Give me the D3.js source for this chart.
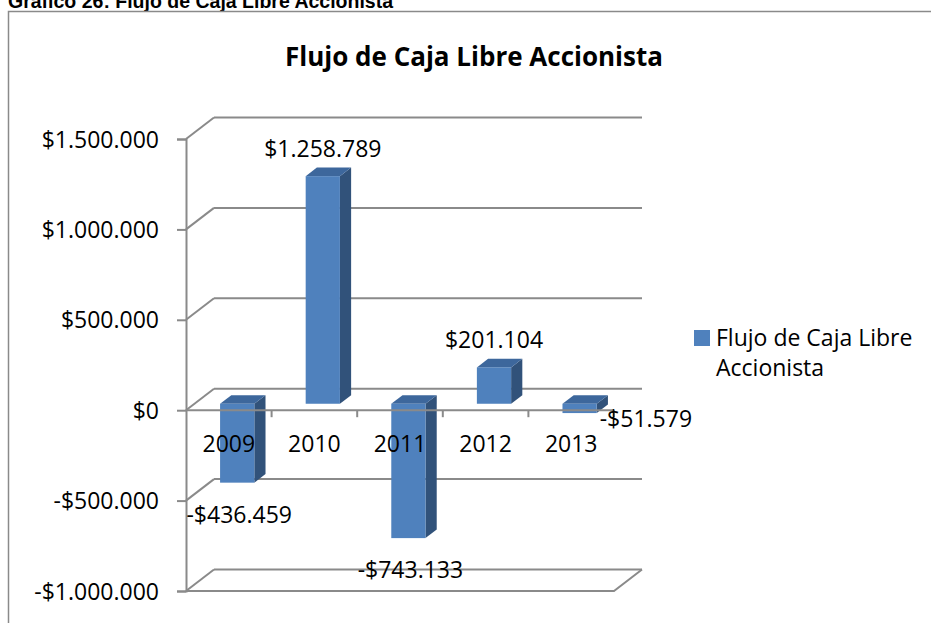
<!DOCTYPE html>
<html>
<head>
<meta charset="utf-8">
<script src="https://cdn.jsdelivr.net/npm/d3@7"></script>
<style>
  body { margin: 0; background: #fff; }
  text { font-family: "Open Sans", sans-serif; fill: #000; }
</style>
</head>
<body>
<div id="chart"></div>
<script>
(function() {
    // datos del gráfico
    const years = ['2009', '2010', '2011', '2012', '2013'];
    const flujo = [-436459, 1258789, -743133, 201104, -51579];
    const yTicks = [-1000000, -500000, 0, 500000, 1000000, 1500000];

    const width = 931, height = 623;
    const frontLeft = 186, frontRight = 614;
    const depthX = 28, depthY = -21.5;   // profundidad del gráfico 3D
    const barF1 = 0.3, barF2 = 0.7;      // posición de la barra en profundidad

    const svg = d3.select('#chart').append('svg')
        .attr('width', width)
        .attr('height', height);

    // formato $1.258.789
    const fmtNum = d3.formatLocale({ decimal: ',', thousands: '.', grouping: [3], currency: ['$', ''] }).format('$,.0f');
    const fmt = v => v < 0 ? '-' + fmtNum(-v) : fmtNum(v);

    const x = d3.scaleBand().domain(years).range([frontLeft, frontRight]).paddingInner(0).paddingOuter(0);
    const y = d3.scaleLinear().domain([-1000000, 1500000]).range([591, 139]);

    const grid = '#8a8a8a';

    // encabezado (cortado arriba, como en el documento)
    svg.append('text')
        .attr('x', 8).attr('y', 7.5)
        .style('font-family', '"Liberation Sans", Arial, sans-serif')
        .style('font-weight', 'bold')
        .style('font-size', '19.5px')
        .text('Gráfico 26: Flujo de Caja Libre Accionista');

    // borde del área del gráfico
    svg.append('path')
        .attr('d', `M8.5,${height + 5} L8.5,11.5 L${width + 5},11.5`)
        .attr('fill', 'none')
        .attr('stroke', grid)
        .attr('stroke-width', 1.5);

    // título
    svg.append('text')
        .attr('x', 474).attr('y', 66)
        .attr('text-anchor', 'middle')
        .style('font-weight', 'bold')
        .style('font-size', '26px')
        .text('Flujo de Caja Libre Accionista');

    const g = svg.append('g');

    // líneas de la pared del fondo y pared lateral
    yTicks.forEach(t => {
        const yy = y(t);
        g.append('line')
            .attr('x1', frontLeft).attr('y1', yy)
            .attr('x2', frontLeft + depthX).attr('y2', yy + depthY)
            .attr('stroke', grid).attr('stroke-width', 2);
        g.append('line')
            .attr('x1', frontLeft + depthX).attr('y1', yy + depthY)
            .attr('x2', frontRight + depthX).attr('y2', yy + depthY)
            .attr('stroke', grid).attr('stroke-width', 2);
    });

    // piso inferior
    const yb = y(-1000000);
    g.append('path')
        .attr('d', `M${frontLeft},${yb} L${frontRight},${yb} L${frontRight + depthX},${yb + depthY}`)
        .attr('fill', 'none').attr('stroke', grid).attr('stroke-width', 2);

    // barras 3D
    const y0 = y(0);
    const bw = x.bandwidth() * 0.4;
    const bars = g.append('g')
        .selectAll('g')
        .data(years.map((d, i) => ({ year: d, value: flujo[i] })))
        .enter().append('g');

    bars.each(function(d) {
        const gb = d3.select(this);
        const xl = x(d.year) + x.bandwidth() / 2 - bw / 2 + barF1 * depthX;
        const xr = xl + bw;
        const yTop = Math.min(y(d.value), y0) + barF1 * depthY;
        const yBot = Math.max(y(d.value), y0) + barF1 * depthY;
        const ddx = (barF2 - barF1) * depthX, ddy = (barF2 - barF1) * depthY;
        gb.append('path')
            .attr('d', `M${xr},${yTop} L${xr + ddx},${yTop + ddy} L${xr + ddx},${yBot + ddy} L${xr},${yBot} Z`)
            .attr('fill', '#31527a');
        gb.append('path')
            .attr('d', `M${xl},${yTop} L${xl + ddx},${yTop + ddy} L${xr + ddx},${yTop + ddy} L${xr},${yTop} Z`)
            .attr('fill', '#3d679c');
        gb.append('rect')
            .attr('x', xl).attr('y', yTop)
            .attr('width', bw).attr('height', yBot - yTop)
            .attr('fill', '#4f81bd');
        d.xl = xl; d.xr = xr; d.yTop = yTop; d.yBot = yBot;
    });

    // línea del cero y marcas del eje de categorías (delante de las barras)
    g.append('line')
        .attr('x1', frontLeft).attr('y1', y0)
        .attr('x2', frontRight).attr('y2', y0)
        .attr('stroke', grid).attr('stroke-width', 2);
    years.forEach((yr, i) => {
        if (i === 0) return;
        g.append('line')
            .attr('x1', x(yr)).attr('y1', y0)
            .attr('x2', x(yr)).attr('y2', y0 + 7)
            .attr('stroke', grid).attr('stroke-width', 2);
    });
    g.append('line')
        .attr('x1', frontRight).attr('y1', y0)
        .attr('x2', frontRight).attr('y2', y0 + 7)
        .attr('stroke', grid).attr('stroke-width', 2);

    // eje vertical
    const yAxis = d3.axisLeft(y).tickValues(yTicks).tickSize(9).tickPadding(18).tickFormat(fmt);
    const ax = svg.append('g')
        .attr('transform', `translate(${frontLeft},0)`)
        .call(yAxis);
    ax.select('.domain').attr('stroke', grid).attr('stroke-width', 2);
    ax.selectAll('.tick line').attr('stroke', grid).attr('stroke-width', 2);
    ax.selectAll('.tick text')
        .style('font-family', '"Open Sans", sans-serif')
        .style('font-size', '23px')
        .attr('fill', '#000')
        .attr('dy', '0.35em');

    // etiquetas de categorías
    svg.append('g')
        .selectAll('text')
        .data(years)
        .enter().append('text')
        .attr('x', d => x(d) + x.bandwidth() / 2)
        .attr('y', y0 + 42)
        .attr('text-anchor', 'middle')
        .style('font-size', '23px')
        .text(d => d);

    // etiquetas de datos
    svg.append('g')
        .selectAll('text')
        .data(bars.data())
        .enter().append('text')
        .style('font-size', '23px')
        .each(function(d) {
            const t = d3.select(this);
            const cx = (d.xl + d.xr) / 2;
            if (d.value >= 0) {
                t.attr('x', cx).attr('y', d.yTop - 19).attr('text-anchor', 'middle');
            } else if (d.yBot + 40 < y0 + 60) {
                // barra pequeña: etiqueta a la derecha
                t.attr('x', d.xr + 3).attr('y', d.yBot + 14).attr('text-anchor', 'start');
            } else {
                t.attr('x', cx + 2).attr('y', d.yBot + 40).attr('text-anchor', 'middle');
            }
        })
        .text(d => fmt(d.value));

    // leyenda
    const lg = svg.append('g').attr('transform', 'translate(694,330)');
    lg.append('rect').attr('width', 16).attr('height', 16).attr('fill', '#4f81bd');
    lg.append('text').attr('x', 22).attr('y', 16).style('font-size', '23px').text('Flujo de Caja Libre');
    lg.append('text').attr('x', 22).attr('y', 46).style('font-size', '23px').text('Accionista');
})();
</script>
</body>
</html>
